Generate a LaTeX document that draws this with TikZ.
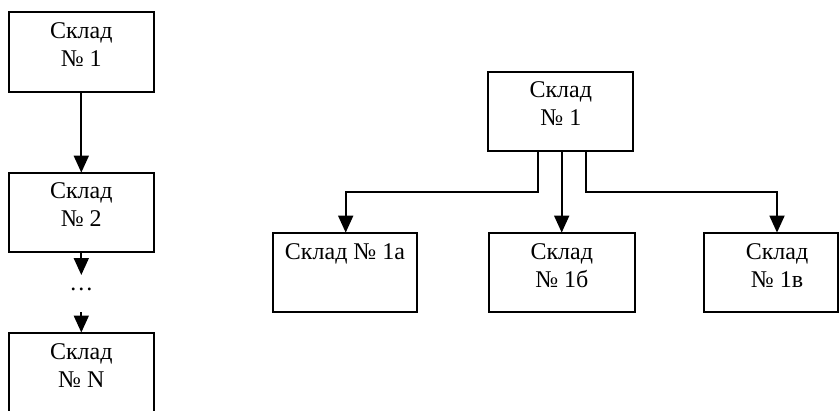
\documentclass[tikz,border=0pt]{standalone}
\usepackage{fontspec}
\setmainfont{Liberation Serif}
\usetikzlibrary{arrows.meta}
\tikzset{
  box/.style={draw, line width=1pt, inner sep=0pt, outer sep=0pt},
  txt/.style={anchor=base, align=center, inner sep=0pt, font=\fontsize{12}{14}\selectfont},
  conn/.style={line width=0.9pt, -{Triangle[length=8.5pt,width=7.5pt]}},
  plain/.style={line width=0.9pt}
}
\begin{document}
\begin{tikzpicture}[x=0.5pt, y=-0.5pt]
\useasboundingbox (0,0) rectangle (839,411);
\begin{scope}
\clip (0,0) rectangle (839,411);
% left column
\node[box, minimum width=72.25pt, minimum height=40pt] (b1) at (81.3,51.7) {};
\node[box, minimum width=72.25pt, minimum height=39.9pt] (b2) at (81.3,212.5) {};
\node[box, minimum width=72.25pt, minimum height=40pt] (bN) at (81.3,372.5) {};
\node[txt] (tb1) at (81.3,66.2) {Склад\\№ 1};
\node[txt] (tb2) at (81.3,227) {Склад\\№ 2};
\node[txt] (tbN) at (81.3,387) {Склад\\№ N};
\node[txt] (dots) at (81.3,290) {…};
\coordinate (a2end) at (81.3,275);
\coordinate (a3start) at (81.3,312);
\draw[conn] (b1.south) -- (b2.north);
\draw[conn] (b2.south) -- (a2end);
\draw[conn] (a3start) -- (bN.north);
% right tree
\node[box, minimum width=72.5pt, minimum height=39.2pt] (t) at (560.8,111.5) {};
\node[txt] (tt) at (560.8,125.8) {Склад\\№ 1};
\node[box, minimum width=72.3pt, minimum height=39.8pt] (na) at (345,272.5) {};
\node[txt] (tna) at (345,259.5) {Склад № 1а};
\node[box, minimum width=73.15pt, minimum height=39.8pt] (nb) at (561.8,272.5) {};
\node[txt] (tnb) at (561.8,287.5) {Склад\\№ 1б};
\node[box, minimum width=66.7pt, minimum height=39.8pt] (nc) at (771,272.5) {};
\node[txt] (tnc) at (777,287.5) {Склад\\№ 1в};
\coordinate (sL) at (538.3,150.7);
\coordinate (sM) at (561.7,150.7);
\coordinate (sR) at (585.7,150.7);
\coordinate (kL1) at (538.3,192.3);
\coordinate (kL2) at (345.7,192.3);
\coordinate (eL) at (345.7,232.6);
\coordinate (kR1) at (585.7,192.3);
\coordinate (kR2) at (777,192.3);
\coordinate (eR) at (777,232.6);
\coordinate (eM) at (561.7,232.6);
\draw[conn] (sL) -- (kL1) -- (kL2) -- (eL);
\draw[conn] (sM) -- (eM);
\draw[conn] (sR) -- (kR1) -- (kR2) -- (eR);
\end{scope}
\end{tikzpicture}
\end{document}
